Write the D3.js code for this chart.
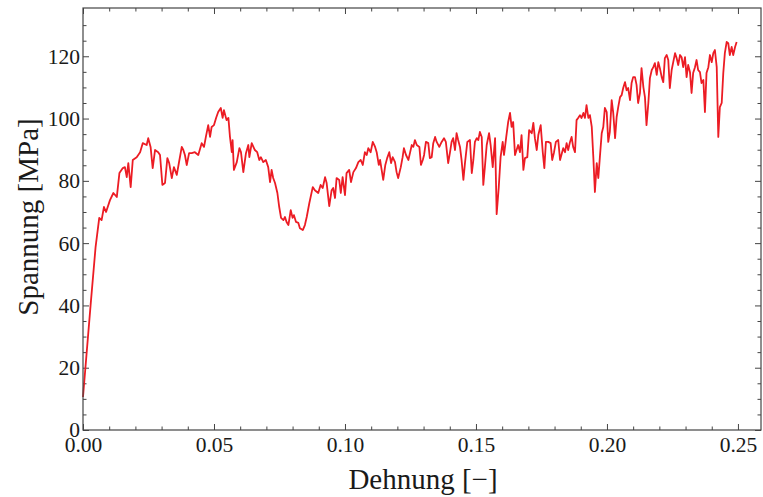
<!DOCTYPE html>
<html>
<head>
<meta charset="utf-8">
<script src="https://cdn.jsdelivr.net/npm/d3@7"></script>
<style>
  body { margin: 0; background: #fff; }
  svg { display: block; }
  .axis text { font-family: "Liberation Serif", "Times New Roman", serif; font-size: 21.5px; fill: #1a1a1a; }
  .axis line { stroke: #444; }
  .title { font-family: "Liberation Serif", "Times New Roman", serif; font-size: 29px; fill: #1a1a1a; }
</style>
</head>
<body>
<svg id="chart"></svg>
<script>
// Dehnung [-] (strain)
const strain = [
  0, 0.0029, 0.0048, 0.0062, 0.0071, 0.0080, 0.0088, 0.0103, 0.0116, 0.0129,
  0.0139, 0.0152, 0.0160, 0.0167, 0.0173, 0.0182, 0.0190, 0.0205, 0.0218, 0.0228,
  0.0243, 0.0249, 0.0258, 0.0266, 0.0275, 0.0287, 0.0294, 0.0303, 0.0313, 0.0322,
  0.0329, 0.0339, 0.0347, 0.0358, 0.0368, 0.0377, 0.0383, 0.0389, 0.0396, 0.0405,
  0.0415, 0.0427, 0.0440, 0.0453, 0.0462, 0.0469, 0.0478, 0.0485, 0.0491, 0.0500,
  0.0508, 0.0516, 0.0526, 0.0533, 0.0538, 0.0548, 0.0555, 0.0561, 0.0568, 0.0571,
  0.0576, 0.0587, 0.0597, 0.0603, 0.0612, 0.0622, 0.0631, 0.0635, 0.0644, 0.0656,
  0.0665, 0.0673, 0.0679, 0.0688, 0.0698, 0.0707, 0.0714, 0.0720, 0.0726, 0.0733,
  0.0742, 0.0749, 0.0756, 0.0765, 0.0771, 0.0777, 0.0784, 0.0793, 0.0800, 0.0805,
  0.0813, 0.0822, 0.0828, 0.0839, 0.0847, 0.0854, 0.0864, 0.0877, 0.0885, 0.0898,
  0.0907, 0.0915, 0.0924, 0.0930, 0.0940, 0.0949, 0.0955, 0.0962, 0.0968, 0.0978,
  0.0984, 0.0991, 0.1000, 0.1006, 0.1016, 0.1023, 0.1032, 0.1042, 0.1051, 0.1060,
  0.1068, 0.1076, 0.1083, 0.1089, 0.1098, 0.1106, 0.1115, 0.1121, 0.1129, 0.1134,
  0.1140, 0.1146, 0.1154, 0.1161, 0.1169, 0.1176, 0.1182, 0.1191, 0.1197, 0.1203,
  0.1213, 0.1220, 0.1225, 0.1233, 0.1242, 0.1248, 0.1255, 0.1261, 0.1267, 0.1274,
  0.1284, 0.1290, 0.1297, 0.1302, 0.1309, 0.1318, 0.1324, 0.1331, 0.1337, 0.1344,
  0.1350, 0.1360, 0.1369, 0.1378, 0.1385, 0.1394, 0.1401, 0.1407, 0.1413, 0.1420,
  0.1426, 0.1432, 0.1439, 0.1445, 0.1452, 0.1458, 0.1467, 0.1477, 0.1484, 0.1490,
  0.1496, 0.1503, 0.1509, 0.1515, 0.1522, 0.1528, 0.1534, 0.1541, 0.1550, 0.1556,
  0.1564, 0.1573, 0.1579, 0.1587, 0.1594, 0.1602, 0.1607, 0.1615, 0.1623, 0.1630,
  0.1636, 0.1642, 0.1649, 0.1655, 0.1661, 0.1668, 0.1674, 0.1681, 0.1687, 0.1696,
  0.1703, 0.1713, 0.1719, 0.1725, 0.1732, 0.1738, 0.1747, 0.1755, 0.1761, 0.1767,
  0.1776, 0.1785, 0.1791, 0.1798, 0.1805, 0.1814, 0.1821, 0.1833, 0.1840, 0.1846,
  0.1852, 0.1859, 0.1865, 0.1871, 0.1878, 0.1884, 0.1890, 0.1897, 0.1903, 0.1910,
  0.1916, 0.1922, 0.1929, 0.1935, 0.1942, 0.1948, 0.1954, 0.1961, 0.1967, 0.1973,
  0.1980, 0.1986, 0.1992, 0.1999, 0.2005, 0.2011, 0.2018, 0.2024, 0.2031, 0.2037,
  0.2043, 0.2050, 0.2056, 0.2062, 0.2069, 0.2075, 0.2081, 0.2088, 0.2094, 0.2100,
  0.2107, 0.2113, 0.2119, 0.2126, 0.2132, 0.2139, 0.2145, 0.2151, 0.2158, 0.2164,
  0.2171, 0.2177, 0.2183, 0.2190, 0.2196, 0.2202, 0.2209, 0.2215, 0.2221, 0.2228,
  0.2234, 0.2240, 0.2247, 0.2253, 0.2260, 0.2266, 0.2272, 0.2279, 0.2285, 0.2291,
  0.2298, 0.2304, 0.2310, 0.2317, 0.2323, 0.2329, 0.2336, 0.2342, 0.2348, 0.2355,
  0.2361, 0.2368, 0.2374, 0.2380, 0.2387, 0.2393, 0.2400, 0.2406, 0.2412, 0.2419,
  0.2425, 0.2431, 0.2438, 0.2444, 0.2450, 0.2457, 0.2463, 0.2469, 0.2476, 0.2482,
  0.2489, 0.2495
];

// Spannung [MPa] (stress)
const stress = [
  10.6, 40.1, 58.7, 68.1, 67.4, 71.6, 70.0, 73.8, 76.1, 74.8,
  82.5, 84.1, 84.4, 81.2, 85.7, 78.0, 86.7, 87.6, 89.2, 92.1,
  91.5, 93.7, 90.9, 84.1, 89.9, 89.2, 88.3, 78.7, 79.3, 87.3,
  85.7, 80.9, 84.4, 81.9, 86.7, 90.9, 89.9, 88.3, 85.1, 88.9,
  88.9, 89.2, 88.3, 92.1, 90.9, 94.1, 97.9, 94.1, 97.3, 97.9,
  100.2, 102.1, 103.4, 100.2, 102.7, 99.5, 100.2, 94.1, 89.2, 93.1,
  83.5, 86.0, 90.5, 89.2, 82.8, 88.9, 91.5, 87.6, 92.1, 89.9,
  89.2, 86.7, 87.6, 86.0, 86.7, 84.4, 79.6, 83.5, 80.9, 79.3,
  76.1, 71.6, 68.1, 67.4, 68.4, 66.8, 65.8, 70.6, 68.1, 69.0,
  66.8, 66.5, 64.8, 64.2, 65.8, 68.4, 72.9, 78.0, 77.0, 76.1,
  78.7, 77.7, 81.2, 79.3, 71.9, 77.0, 77.7, 74.5, 80.9, 80.3,
  76.1, 81.2, 75.4, 82.5, 83.5, 79.6, 82.8, 84.1, 86.0, 86.7,
  85.1, 89.2, 88.3, 90.5, 89.2, 92.5, 90.9, 89.2, 85.1, 86.7,
  83.5, 80.3, 85.1, 87.3, 89.2, 85.7, 87.6, 86.0, 82.8, 80.9,
  84.4, 87.6, 90.5, 88.3, 86.7, 88.9, 91.5, 90.9, 93.1, 91.5,
  90.9, 85.1, 86.7, 88.3, 92.5, 92.1, 87.3, 87.6, 92.1, 94.1,
  92.5, 90.9, 92.5, 93.7, 92.5, 85.7, 89.2, 92.5, 93.7, 89.9,
  95.3, 93.1, 90.9, 86.7, 80.3, 85.7, 92.5, 93.1, 82.5, 86.7,
  92.5, 93.7, 93.1, 95.7, 94.1, 78.7, 84.4, 91.5, 95.3, 91.5,
  84.4, 93.7, 69.3, 78.0, 87.6, 92.5, 88.3, 93.7, 98.9, 101.8,
  97.3, 98.9, 88.3, 89.9, 91.5, 89.2, 94.7, 83.5, 87.3, 87.6,
  96.3, 95.3, 98.6, 93.7, 89.9, 94.7, 97.9, 89.2, 84.1, 92.5,
  92.5, 92.1, 86.7, 89.2, 92.5, 93.1, 86.7, 90.5, 89.2, 92.1,
  89.9, 92.5, 94.1, 90.9, 89.2, 99.5, 100.2, 101.1, 100.2, 101.8,
  100.2, 104.3, 100.2, 101.1, 97.3, 87.6, 76.4, 85.7, 80.9, 87.6,
  95.3, 97.3, 103.4, 102.1, 92.5, 95.7, 105.9, 101.8, 93.7, 100.5,
  103.7, 106.9, 107.5, 109.8, 111.7, 109.1, 109.8, 105.9, 111.4, 113.3,
  113.3, 110.8, 105.0, 108.2, 116.2, 110.1, 106.9, 97.9, 105.0, 113.0,
  115.6, 116.5, 117.8, 114.0, 118.1, 116.2, 113.3, 111.7, 119.4, 120.4,
  118.8, 109.8, 115.6, 118.1, 121.0, 119.4, 117.2, 120.4, 119.7, 116.5,
  119.7, 113.3, 117.2, 114.9, 108.2, 114.6, 116.5, 118.8, 115.6, 114.9,
  111.4, 112.4, 102.1, 114.6, 116.5, 120.4, 118.1, 121.0, 122.0, 116.5,
  94.1, 103.7, 105.0, 114.6, 121.0, 124.6, 124.2, 120.4, 123.0, 120.4,
  123.0, 124.6
];

const xMajor = [0, 0.05, 0.10, 0.15, 0.20, 0.25];
const yMajor = [0, 20, 40, 60, 80, 100, 120];

const width = 763;
const height = 497;
const margin = { left: 83, right: 2, top: 8, bottom: 67 };

const svg = d3.select("#chart")
    .attr("width", width)
    .attr("height", height);

const xScale = d3.scaleLinear()
    .domain([0, 0.2588])
    .range([margin.left, width - margin.right]);

const yScale = d3.scaleLinear()
    .domain([0, 135.5])
    .range([height - margin.bottom, margin.top]);

const xMinor = d3.range(0, 0.2585, 0.01).filter(v => !xMajor.some(m => Math.abs(m - v) < 1e-6));
const yMinor = d3.range(0, 135, 5).filter(v => v % 20 !== 0);

const x0 = margin.left, x1 = width - margin.right;
const y0 = height - margin.bottom, y1 = margin.top;

// minor ticks, all four sides, pointing in
function minorAxis(axis, scale, ticks, transform) {
    svg.append("g")
        .attr("class", "axis")
        .attr("transform", transform)
        .call(axis(scale).tickValues(ticks).tickSize(-3.5).tickSizeOuter(0).tickFormat(""))
        .call(g => g.select(".domain").remove());
}
minorAxis(d3.axisBottom, xScale, xMinor, `translate(0, ${y0})`);
minorAxis(d3.axisTop, xScale, xMinor, `translate(0, ${y1})`);
minorAxis(d3.axisLeft, yScale, yMinor, `translate(${x0}, 0)`);
minorAxis(d3.axisRight, yScale, yMinor, `translate(${x1}, 0)`);

// major ticks
svg.append("g")
    .attr("class", "axis")
    .attr("transform", `translate(0, ${y0})`)
    .call(d3.axisBottom(xScale).tickValues(xMajor).tickSize(-6).tickSizeOuter(0)
        .tickPadding(7).tickFormat(d3.format(".2f")))
    .call(g => g.select(".domain").remove());

svg.append("g")
    .attr("class", "axis")
    .attr("transform", `translate(0, ${y1})`)
    .call(d3.axisTop(xScale).tickValues(xMajor).tickSize(-6).tickSizeOuter(0).tickFormat(""))
    .call(g => g.select(".domain").remove());

svg.append("g")
    .attr("class", "axis")
    .attr("transform", `translate(${x0}, 0)`)
    .call(d3.axisLeft(yScale).tickValues(yMajor).tickSize(-6).tickSizeOuter(0)
        .tickPadding(3).tickFormat(d3.format("d")))
    .call(g => g.select(".domain").remove());

svg.append("g")
    .attr("class", "axis")
    .attr("transform", `translate(${x1}, 0)`)
    .call(d3.axisRight(yScale).tickValues(yMajor).tickSize(-6).tickSizeOuter(0).tickFormat(""))
    .call(g => g.select(".domain").remove());

// curve
const line = d3.line()
    .x((d, i) => xScale(strain[i]))
    .y(d => yScale(d));

svg.append("path")
    .datum(stress)
    .attr("d", line)
    .attr("fill", "none")
    .attr("stroke", "#ec1c24")
    .attr("stroke-width", 1.8)
    .attr("stroke-linejoin", "round");

// frame
svg.append("rect")
    .attr("x", x0)
    .attr("y", y1)
    .attr("width", x1 - x0)
    .attr("height", y0 - y1)
    .attr("fill", "none")
    .attr("stroke", "#444")
    .attr("stroke-width", 1.2);

// axis titles
svg.append("text")
    .attr("class", "title")
    .attr("x", (x0 + x1) / 2 + 1)
    .attr("y", 489)
    .attr("text-anchor", "middle")
    .text("Dehnung [\u2212]");

svg.append("text")
    .attr("class", "title")
    .attr("transform", `translate(38, 217) rotate(-90)`)
    .attr("text-anchor", "middle")
    .text("Spannung [MPa]");
</script>
</body>
</html>
